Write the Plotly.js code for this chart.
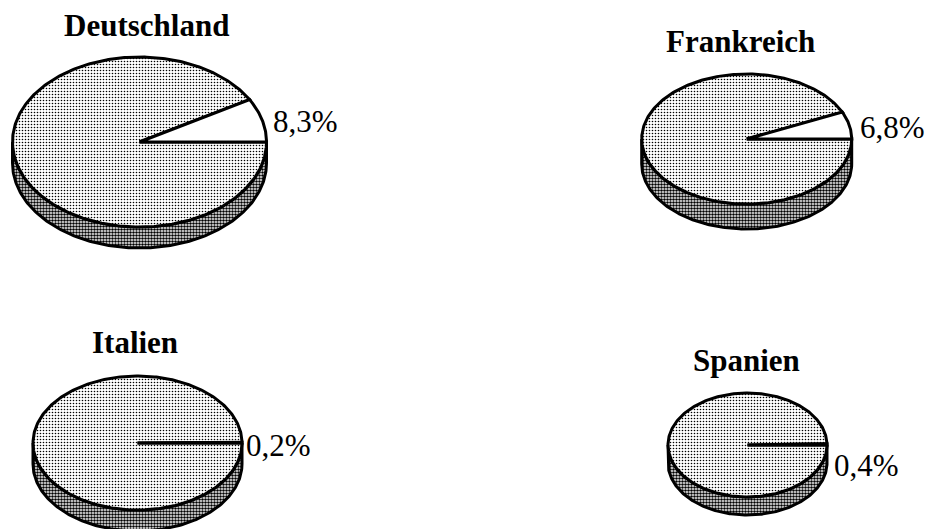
<!DOCTYPE html>
<html>
<head>
<meta charset="utf-8">
<script src="https://cdn.plot.ly/plotly-3.0.1.min.js"></script>
<style>html,body{margin:0;padding:0;background:#fff;}#chart{width:932px;height:529px;}</style>
</head>
<body>
<div id="chart"></div>
<script>
// ---- data ----
const countries = ['Deutschland', 'Frankreich', 'Italien', 'Spanien'];
const sharePct = [8.3, 6.8, 0.2, 0.4];
const shareText = ['8,3%', '6,8%', '0,2%', '0,4%'];

// ---- layout geometry (pixel-like axis units) ----
const centerX = [139.5, 746.7, 137.5, 747.5];
const centerY = [142, 139, 443, 445];
const radiusX = [127, 105, 104.5, 79.5];
const radiusY = [85, 65, 67, 52];
const depth = [21, 25, 21, 18];
const titleX = [146, 740, 135, 746.5];
const titleY = [25, 41, 342, 360];
const labelX = [271, 858, 244, 832];
const labelY = [121, 127, 445, 465];

const SERIF = 'Liberation Serif';
const N = 180;
const lineStyle = {color: '#000', width: 3};
const topPattern = {shape: '.', fgcolor: '#000', bgcolor: '#fff', size: 3, solidity: 0.22};
const sidePattern = {shape: '.', fgcolor: '#000', bgcolor: '#fff', size: 3, solidity: 0.55};

const traces = [];
const annotations = [];

countries.forEach((name, i) => {
  const cx = centerX[i], cy = centerY[i], rx = radiusX[i], ry = radiusY[i], d = depth[i];
  const a = sharePct[i] / 100 * 2 * Math.PI;

  // side band (lower half of the disc, extruded)
  const sx = [], sy = [];
  for (let k = 0; k <= N; k++) {
    const t = Math.PI * k / N;
    sx.push(cx + rx * Math.cos(t)); sy.push(cy + ry * Math.sin(t));
  }
  for (let k = N; k >= 0; k--) {
    const t = Math.PI * k / N;
    sx.push(cx + rx * Math.cos(t)); sy.push(cy + ry * Math.sin(t) + d);
  }
  sx.push(sx[0]); sy.push(sy[0]);
  traces.push({x: sx, y: sy, type: 'scatter', mode: 'lines', fill: 'toself',
    fillcolor: '#fff', fillpattern: sidePattern, line: lineStyle, hoverinfo: 'skip'});

  // main (rest) slice
  const mx = [cx], my = [cy];
  for (let k = 0; k <= N * 2; k++) {
    const t = a + (2 * Math.PI - a) * k / (N * 2);
    mx.push(cx + rx * Math.cos(t)); my.push(cy - ry * Math.sin(t));
  }
  mx.push(cx); my.push(cy);
  traces.push({x: mx, y: my, type: 'scatter', mode: 'lines', fill: 'toself',
    fillcolor: '#fff', fillpattern: topPattern, line: lineStyle, hoverinfo: 'skip'});

  // highlighted share slice (white)
  const wx = [cx], wy = [cy];
  const M = 40;
  for (let k = 0; k <= M; k++) {
    const t = a * k / M;
    wx.push(cx + rx * Math.cos(t)); wy.push(cy - ry * Math.sin(t));
  }
  wx.push(cx); wy.push(cy);
  traces.push({x: wx, y: wy, type: 'scatter', mode: 'lines', fill: 'toself',
    fillcolor: '#fff', line: lineStyle, hoverinfo: 'skip'});

  annotations.push({x: titleX[i], y: titleY[i], xref: 'x', yref: 'y', text: name,
    showarrow: false, xanchor: 'center', yanchor: 'middle',
    font: {family: SERIF, size: 31, color: '#000', weight: 'bold'}});
  annotations.push({x: labelX[i], y: labelY[i], xref: 'x', yref: 'y', text: shareText[i],
    showarrow: false, xanchor: 'left', yanchor: 'middle',
    font: {family: SERIF, size: 31, color: '#000'}});
});

const layout = {
  width: 932, height: 529,
  margin: {l: 0, r: 0, t: 0, b: 0, pad: 0},
  paper_bgcolor: '#fff', plot_bgcolor: '#fff',
  showlegend: false,
  font: {family: SERIF},
  xaxis: {range: [0, 932], visible: false, fixedrange: true},
  yaxis: {range: [529, 0], visible: false, fixedrange: true},
  annotations: annotations
};

Plotly.newPlot('chart', traces, layout, {displayModeBar: false, staticPlot: true});
</script>
</body>
</html>
